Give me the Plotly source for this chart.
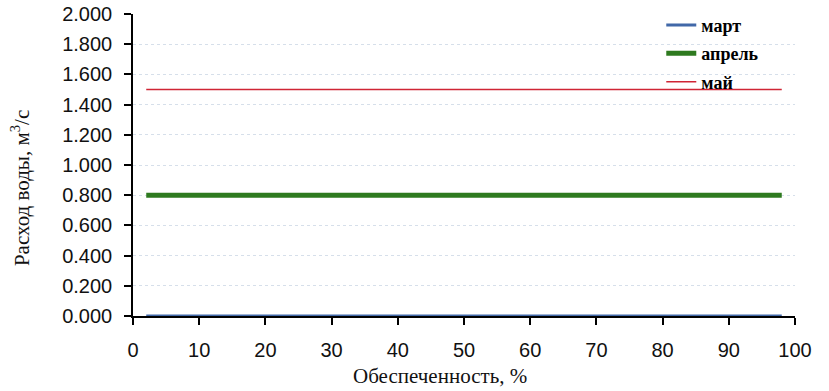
import plotly.graph_objects as go

x_vals = [2, 10, 20, 30, 40, 50, 60, 70, 80, 90, 98]
mart = [0.0] * len(x_vals)
aprel = [0.8] * len(x_vals)
may = [1.5] * len(x_vals)

x_ticks = list(range(0, 101, 10))
y_ticks = [0.0, 0.2, 0.4, 0.6, 0.8, 1.0, 1.2, 1.4, 1.6, 1.8, 2.0]

series = [
    ("март", mart, "#4168a8", 3),
    ("апрель", aprel, "#2e7a1f", 5),
    ("май", may, "#d02535", 1.5),
]

fig = go.Figure()
for name, vals, color, w in series:
    fig.add_trace(go.Scatter(x=x_vals, y=vals, mode="lines", name=name,
                             legendgroup=name,
                             line=dict(color=color, width=w)))

tickfont = dict(family="Liberation Sans", size=20, color="#111")
fig.update_layout(
    width=829, height=391,
    margin=dict(l=133, r=34, t=14, b=75, autoexpand=False),
    paper_bgcolor="white", plot_bgcolor="white",
    showlegend=True,
    legend=dict(x=0.798, y=1.024, xanchor="left", yanchor="top",
                bgcolor="rgba(0,0,0,0)", borderwidth=0,
                font=dict(family="Liberation Serif", size=18, color="black", weight="bold"),
                tracegroupgap=2),
    xaxis=dict(range=[0, 100], tickvals=x_ticks, automargin=False,
               showline=True, linecolor="black", linewidth=1.5,
               ticks="outside", ticklen=7, tickcolor="black", tickwidth=1.5,
               ticklabelstandoff=8,
               showgrid=False, zeroline=False, tickfont=tickfont),
    yaxis=dict(range=[0, 2.0], tickvals=y_ticks, tickformat=".3f", automargin=False,
               showline=True, linecolor="black", linewidth=1.5,
               ticks="outside", ticklen=7, tickcolor="black", tickwidth=1.5,
               ticklabelstandoff=8,
               showgrid=True, gridcolor="#d6dfea", griddash="dot", gridwidth=1,
               zeroline=False, tickfont=tickfont),
    annotations=[
        dict(text="Обеспеченность, %", xref="paper", yref="paper",
             x=0.464, y=-0.2, xanchor="center", yanchor="middle", showarrow=False,
             font=dict(family="Liberation Serif", size=21, color="#111")),
        dict(text="Расход воды, м<sup>3</sup>/с", xref="paper", yref="paper",
             x=-0.169, y=0.424, xanchor="center", yanchor="middle", showarrow=False,
             textangle=-90,
             font=dict(family="Liberation Serif", size=21, color="#111")),
    ],
)

fig.write_html("out.html", config={"displayModeBar": False},
               post_script="document.body.style.margin='0';")
